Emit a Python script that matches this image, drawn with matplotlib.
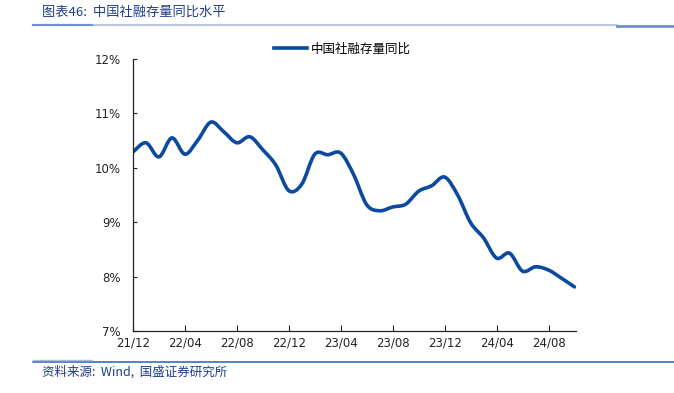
import matplotlib
matplotlib.use('Agg')
import matplotlib.pyplot as plt
import numpy as np
from matplotlib.path import Path
from matplotlib.patches import PathPatch
from matplotlib.lines import Line2D

plt.rcParams['font.family'] = ['Noto Sans CJK SC', 'DejaVu Sans']

# data: 社融存量同比 (%), monthly 21/12 - 24/10
months = ['21/12', '22/01', '22/02', '22/03', '22/04', '22/05', '22/06', '22/07',
          '22/08', '22/09', '22/10', '22/11', '22/12', '23/01', '23/02', '23/03',
          '23/04', '23/05', '23/06', '23/07', '23/08', '23/09', '23/10', '23/11',
          '23/12', '24/01', '24/02', '24/03', '24/04', '24/05', '24/06', '24/07',
          '24/08', '24/09', '24/10']
tsf_yoy = [10.29, 10.46, 10.20, 10.55, 10.25, 10.51, 10.84, 10.66, 10.46, 10.57,
           10.33, 10.05, 9.58, 9.70, 10.25, 10.24, 10.27, 9.87, 9.32, 9.21,
           9.28, 9.33, 9.57, 9.67, 9.83, 9.50, 8.99, 8.71, 8.34, 8.43,
           8.10, 8.18, 8.12, 7.97, 7.81]
yticks = [7, 8, 9, 10, 11, 12]

LINE_COLOR = '#0B4A9E'
TEXT_BLUE = '#1F3C88'

fig = plt.figure(figsize=(6.74, 3.93), dpi=100)
ax = fig.add_axes([0.1973, 0.1578, 0.657, 0.6921])

# smooth line (Excel style Catmull-Rom bezier through the points)
x = np.arange(len(tsf_yoy), dtype=float)
y = np.array(tsf_yoy)
verts = [(x[0], y[0])]
codes = [Path.MOVETO]
n = len(x)
for i in range(n - 1):
    p0 = np.array([x[max(i - 1, 0)], y[max(i - 1, 0)]])
    p1 = np.array([x[i], y[i]])
    p2 = np.array([x[i + 1], y[i + 1]])
    p3 = np.array([x[min(i + 2, n - 1)], y[min(i + 2, n - 1)]])
    c1 = p1 + (p2 - p0) / 6.0
    c2 = p2 - (p3 - p1) / 6.0
    verts += [tuple(c1), tuple(c2), tuple(p2)]
    codes += [Path.CURVE4] * 3
patch = PathPatch(Path(verts, codes), facecolor='none', edgecolor=LINE_COLOR,
                  lw=2.6, capstyle='round', joinstyle='round')
ax.add_patch(patch)

ax.set_xlim(0, 34.1)
ax.set_ylim(7, 12)
ax.set_xticks(x[::4])
ax.set_xticklabels(months[::4], family='DejaVu Sans', fontsize=8.5)
ax.set_yticks(yticks)
ax.set_yticklabels(['%d%%' % v for v in yticks], family='DejaVu Sans', fontsize=8.5)
ax.tick_params(axis='x', direction='in', length=4, width=0.8, pad=4, colors='#222222')
ax.tick_params(axis='y', direction='in', length=3, width=0.8, pad=9, colors='#222222')
for s in ['top', 'right']:
    ax.spines[s].set_visible(False)
for s in ['left', 'bottom']:
    ax.spines[s].set_color('#222222')
    ax.spines[s].set_linewidth(0.9)

handle = Line2D([], [], color=LINE_COLOR, lw=2.6)
ax.legend([handle], ['中国社融存量同比'], loc='center', bbox_to_anchor=(0.508, 0.875),
          bbox_transform=fig.transFigure, frameon=False, fontsize=9,
          handlelength=2.7, handletextpad=0.3)

# header / footer
fig.text(0.063, 0.968, '图表46:  中国社融存量同比水平', fontsize=9.5, color=TEXT_BLUE,
         style='italic', va='center', ha='left')
fig.add_artist(Line2D([0.049, 0.916], [0.936, 0.936], color='#A9BDDA', lw=1.2))
fig.add_artist(Line2D([0.049, 0.137], [0.937, 0.937], color='#6D93C8', lw=1.6))
fig.add_artist(Line2D([0.916, 1.0], [0.935, 0.935], color='#6D93C8', lw=2.0))
fig.add_artist(Line2D([0.049, 1.0], [0.079, 0.079], color='#3B6CB6', lw=1.2))
fig.add_artist(Line2D([0.049, 0.137], [0.083, 0.083], color='#A9BDDA', lw=1.0))
fig.text(0.063, 0.053, '资料来源:  Wind,  国盛证券研究所', fontsize=9, color=TEXT_BLUE,
         style='italic', va='center', ha='left')

fig.savefig('out.png', dpi=100)
